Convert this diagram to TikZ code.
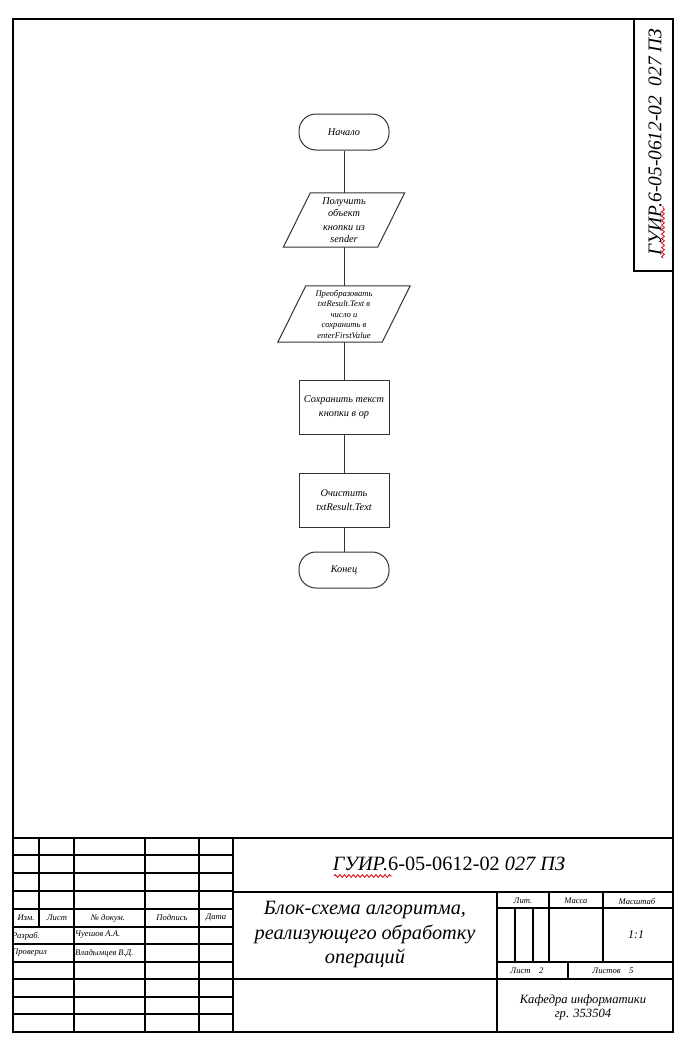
\documentclass[tikz,border=0pt]{standalone}
\usepackage{fontspec}
\setmainfont{Liberation Serif}
\usetikzlibrary{decorations.pathmorphing}
\begin{document}
\begin{tikzpicture}[x=1pt,y=-1pt,
  frame/.style={line width=1.5pt,black},
  flow/.style={line width=1pt,draw=black!80},
  fbox/.style={flow,draw,minimum width=90pt,minimum height=54pt,inner sep=0pt,align=center,font=\fontsize{10.3}{13.5}\selectfont\itshape},
  term/.style={fbox,minimum height=36pt,rounded corners=17pt},
  ptext/.style={minimum width=94pt,minimum height=54pt,inner sep=0pt,align=center},
  lbl/.style={inner sep=0pt,font=\fontsize{8.6}{9}\selectfont\itshape},
  spell/.style={red!85!black,line width=0.8pt,decorate,decoration={snake,amplitude=1.4pt,segment length=4.5pt}}
]
\useasboundingbox (0,0) rectangle (694,1044);
\fill[white] (0,0) rectangle (694,1044);
% outer frame
\draw[frame] (13,19) rectangle (673,1032);
% top right stamp
\draw[frame] (634,19) rectangle (673,271);
\node[rotate=90,inner sep=0pt,font=\fontsize{19.4}{21}\selectfont\itshape] (stamp) at (655,142) {ГУИР.6-05-0612-02\ \ 027 ПЗ};
\draw[spell] (663,258) -- (663,206);

% flowchart
\node[term] (start) at (344,132) {Начало};
\node[ptext,font=\fontsize{10.3}{12}\selectfont\itshape] (p1) at (344,220) {Получить\\объект\\[2pt]кнопки из\\sender};
\draw[flow] ([xshift=13.5pt]p1.north west) -- ([xshift=13.5pt]p1.north east) -- ([xshift=-13.5pt]p1.south east) -- ([xshift=-13.5pt]p1.south west) -- cycle;
\node[ptext,minimum width=104pt,minimum height=56pt,font=\fontsize{8.6}{10.5}\selectfont\itshape] (p2) at (344,314) {Преобразовать\\txtResult.Text в\\число и\\сохранить в\\enterFirstValue};
\draw[flow] ([xshift=14pt]p2.north west) -- ([xshift=14pt]p2.north east) -- ([xshift=-14pt]p2.south east) -- ([xshift=-14pt]p2.south west) -- cycle;
\node[fbox] (r1) at (344,407) {Сохранить текст\\кнопки в ор};
\node[fbox] (r2) at (344,500) {Очистить\\txtResult.Text};
\node[term] (end) at (344,570) {Конец};
\draw[flow] (start) -- (p1);
\draw[flow] (p1) -- (p2);
\draw[flow] (p2) -- (r1);
\draw[flow] (r1) -- (r2);
\draw[flow] (r2) -- (end);

% title block
\draw[frame] (13,838) -- (673,838);
\foreach \y in {855,873,891,909,927,944,962,979,997,1014} \draw[frame] (13,\y) -- (233,\y);
\draw[frame] (39,838) -- (39,927);
\foreach \x in {74,145,199,233} \draw[frame] (\x,838) -- (\x,1032);
\draw[frame] (233,892) -- (673,892);
\draw[frame] (233,979) -- (673,979);
\draw[frame] (497,892) -- (497,1032);
\draw[frame] (497,908) -- (673,908);
\draw[frame] (497,962) -- (673,962);
\foreach \x in {549,603} \draw[frame] (\x,892) -- (\x,962);
\foreach \x in {515,533} \draw[frame] (\x,908) -- (\x,962);
\draw[frame] (568,962) -- (568,979);

\node[lbl] (izm) at (26,918) {Изм.};
\node[lbl] (list) at (57,918) {Лист};
\node[lbl] (ndoc) at (108,918) {№ докум.};
\node[lbl] (podp) at (172,918) {Подпись};
\node[lbl] (data) at (216,918) {Дата};
\node[lbl,anchor=west] (razr) at (12,936) {Разраб.};
\node[lbl,anchor=west] (razrn) at (75,935) {Чуешов А.А.};
\node[lbl,anchor=west] (prov) at (12,953) {Проверил};
\node[lbl,anchor=west] (provn) at (75,953) {Владымцев В.Д.};

\node[inner sep=0pt,font=\fontsize{20.3}{21}\selectfont] (code) at (449,864) {{\itshape ГУИР.}6-05-0612-02 {\itshape 027 ПЗ}};
\draw[spell] (334,876) -- (392,876);
\node[inner sep=0pt,align=center,font=\fontsize{20.3}{24.5}\selectfont\itshape] (title) at (365,935) {Блок-схема алгоритма,\\реализующего обработку\\операций};
\node[lbl] (lit) at (523,901) {Лит.};
\node[lbl] (massa) at (576,901) {Масса};
\node[lbl] (masht) at (637,901) {Масштаб};
\node[inner sep=0pt,font=\fontsize{12}{12}\selectfont\itshape] (scale) at (636,935) {1:1};
\node[lbl] (sheet) at (527,971) {Лист\quad 2};
\node[lbl] (sheets) at (613,971) {Листов\quad 5};
\node[inner sep=0pt,align=center,font=\fontsize{12.6}{14}\selectfont\itshape] (dept) at (583,1007) {Кафедра информатики\\гр. 353504};
\end{tikzpicture}
\end{document}
